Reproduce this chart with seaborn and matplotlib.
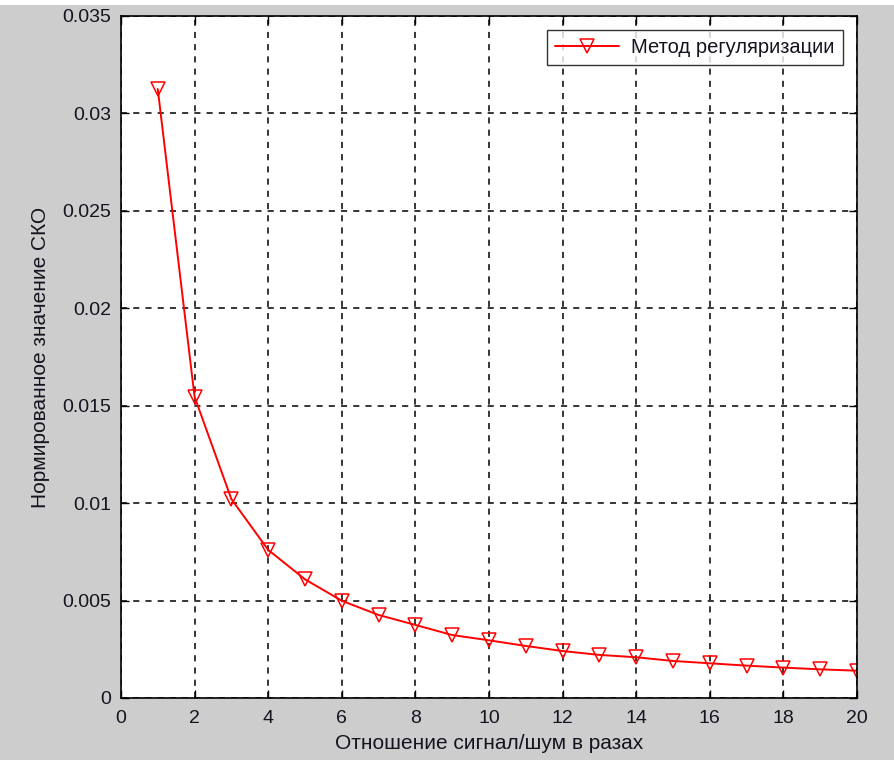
import matplotlib
matplotlib.use("Agg")
import matplotlib.pyplot as plt
from matplotlib.patches import Rectangle
import seaborn as sns
import pandas as pd

# Normalised RMS error of the regularisation method vs. signal-to-noise ratio
snr = [1, 2, 3, 4, 5, 6, 7, 8, 9, 10, 11, 12, 13, 14, 15, 16, 17, 18, 19, 20]
rmse = [0.03125, 0.01546, 0.01021, 0.00760, 0.00609, 0.00499, 0.00426,
        0.00375, 0.00323, 0.00296, 0.00267, 0.00241, 0.00221, 0.00209,
        0.00190, 0.00178, 0.00166, 0.00156, 0.00147, 0.00140]
series_name = "Метод регуляризации"
x_label = "Отношение сигнал/шум в разах"
y_label = "Нормированное значение СКО"
x_ticks = list(range(0, 21, 2))
y_ticks = [0, 0.005, 0.01, 0.015, 0.02, 0.025, 0.03, 0.035]
y_tick_labels = ["0", "0.005", "0.01", "0.015", "0.02", "0.025", "0.03", "0.035"]

df = pd.DataFrame({"snr": snr, "rmse": rmse})

sns.set_style("ticks")
plt.rcParams["font.family"] = ["Liberation Sans", "DejaVu Sans"]
text_color = "#141420"

fig = plt.figure(figsize=(8.94, 7.6), dpi=100, facecolor="#cdcdcd")
# thin white band along the top edge of the window
fig.patches.append(Rectangle((0, 1 - 5 / 760), 1, 5 / 760, transform=fig.transFigure,
                             facecolor="white", edgecolor="none", zorder=0))
ax = fig.add_axes([0.1353, 0.0816, 0.8233, 0.8974])
ax.set_facecolor("white")

sns.lineplot(data=df, x="snr", y="rmse", ax=ax, color="red", linewidth=1.4,
             marker="v", markersize=10, markerfacecolor="none",
             markeredgecolor="red", markeredgewidth=1.1, label=series_name)

ax.set_xlim(0, 20)
ax.set_ylim(0, 0.035)
ax.set_xticks(x_ticks)
ax.set_yticks(y_ticks)
ax.set_yticklabels(y_tick_labels)
ax.grid(True, color="black", linestyle=(0, (4, 4)), linewidth=1.1)
ax.tick_params(direction="in", length=6, width=1, top=True, right=True,
               labelsize=14, colors="black", labelcolor=text_color)
ax.tick_params(axis="x", pad=9)
ax.tick_params(axis="y", pad=7)
for sp in ax.spines.values():
    sp.set_visible(True)
    sp.set_color("black")
    sp.set_linewidth(1.2)

ax.set_xlabel(x_label, fontsize=15, labelpad=5, color=text_color)
ax.set_ylabel(y_label, fontsize=15, labelpad=9, color=text_color)

leg = ax.legend(loc="upper right", fontsize=14.5, frameon=True, fancybox=False,
                edgecolor="black", borderaxespad=0.7, handlelength=3.2,
                borderpad=0.4, handletextpad=0.6)
leg.get_frame().set_linewidth(1.0)
for t in leg.get_texts():
    t.set_color(text_color)

fig.savefig("out.png", dpi=100, facecolor=fig.get_facecolor())
